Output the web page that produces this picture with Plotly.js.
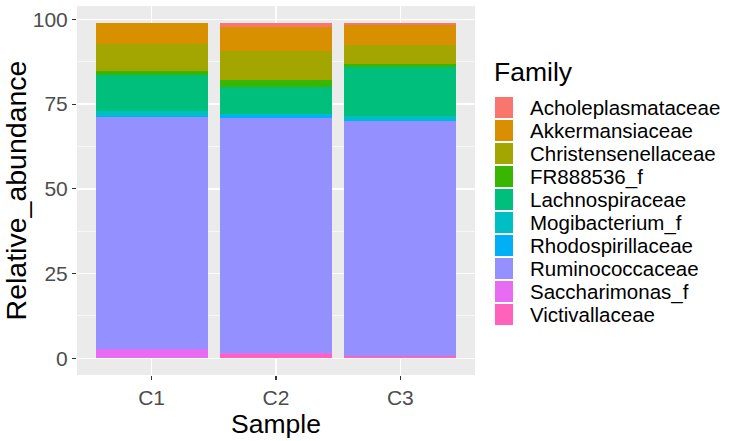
<!DOCTYPE html>
<html><head><meta charset="utf-8">
<script src="https://cdn.plot.ly/plotly-3.0.1.min.js"></script>
<style>html,body{margin:0;padding:0;background:#fff;}#chart{width:749px;height:441px;}</style>
</head><body><div id="chart"></div>
<script>
const samples = ["C1", "C2", "C3"];
const families = ["Acholeplasmataceae","Akkermansiaceae","Christensenellaceae","FR888536_f","Lachnospiraceae","Mogibacterium_f","Rhodospirillaceae","Ruminococcaceae","Saccharimonas_f","Victivallaceae"];
const familyColors = ["#F8766D","#D89000","#A3A500","#39B600","#00BF7D","#00BFC4","#00B0F6","#9590FF","#E76BF3","#FF62BC"];
const Acholeplasmataceae = [0.05, 1.0, 0.85];
const Akkermansiaceae = [6.1, 7.2, 5.9];
const Christensenellaceae = [8.15, 8.6, 5.5];
const FR888536_f = [1.0, 2.1, 0.9];
const Lachnospiraceae = [10.8, 7.9, 14.3];
const Mogibacterium_f = [1.5, 0.3, 1.3];
const Rhodospirillaceae = [0.3, 1.0, 0.2];
const Ruminococcaceae = [68.4, 69.4, 69.3];
const Saccharimonas_f = [2.5, 0.1, 0.1];
const Victivallaceae = [0.15, 1.3, 0.7];
const yTicks = [0, 25, 50, 75, 100];

const values = [Acholeplasmataceae, Akkermansiaceae, Christensenellaceae, FR888536_f, Lachnospiraceae, Mogibacterium_f, Rhodospirillaceae, Ruminococcaceae, Saccharimonas_f, Victivallaceae];

const W = 749, H = 441;
const M = {l: 77, r: 274, t: 6, b: 66};
const pw = W - M.l - M.r, ph = H - M.t - M.b;
const px2x = p => (p - M.l) / pw;
const py2y = p => 1 - (p - M.t) / ph;

const traces = [];
for (let i = families.length - 1; i >= 0; i--) {
  traces.push({
    type: "bar", name: families[i], x: samples, y: values[i],
    marker: {color: familyColors[i], line: {width: 0}},
    width: 0.9, showlegend: false
  });
}

// manual ggplot-style legend
const shapes = [];
const annotations = [];
const keyLeft = 495, keyW = 18, keyTop0 = 97, keyH = 21, pitch = 23, textLeft = 529;
families.forEach((f, i) => {
  const top = keyTop0 + i * pitch;
  shapes.push({
    type: "rect", xref: "paper", yref: "paper",
    x0: px2x(keyLeft), x1: px2x(keyLeft + keyW),
    y0: py2y(top + keyH), y1: py2y(top),
    fillcolor: familyColors[i], line: {width: 0}
  });
  annotations.push({
    xref: "paper", yref: "paper", x: px2x(textLeft), y: py2y(top + keyH / 2),
    xanchor: "left", yanchor: "middle", showarrow: false, text: f,
    borderpad: 0,
    font: {size: 20.5, color: "#000000"}
  });
});
annotations.push({
  xref: "paper", yref: "paper", x: px2x(493), y: py2y(72),
  xanchor: "left", yanchor: "middle", showarrow: false, text: "Family",
  borderpad: 0,
  font: {size: 26.5, color: "#000000"}
});

const layout = {
  width: W, height: H,
  margin: M,
  barmode: "stack",
  paper_bgcolor: "#FFFFFF",
  plot_bgcolor: "#EBEBEB",
  font: {family: "Liberation Sans, Arial, sans-serif", color: "#4D4D4D"},
  showlegend: false,
  xaxis: {
    range: [-0.6, 2.6], showgrid: true, gridcolor: "#FFFFFF", gridwidth: 1.4,
    zeroline: false, showline: false, automargin: false,
    ticks: "outside", ticklen: 4, tickcolor: "#333333", tickwidth: 1.2,
    tickfont: {size: 21, color: "#4D4D4D"},
    title: {text: "Sample", font: {size: 26.5, color: "#000000"}, standoff: 4}
  },
  yaxis: {
    range: [-4.95, 103.95], tickvals: yTicks, ticktext: yTicks.map(String),
    showgrid: true, gridcolor: "#FFFFFF", gridwidth: 1.4, automargin: false,
    minor: {tickvals: [12.5, 37.5, 62.5, 87.5], showgrid: true, gridcolor: "#FFFFFF", gridwidth: 0.6, ticks: ""},
    zeroline: false, showline: false,
    ticks: "outside", ticklen: 4, tickcolor: "#333333", tickwidth: 1.2,
    tickfont: {size: 21, color: "#4D4D4D"},
    title: {text: "Relative_abundance", font: {size: 28.5, color: "#000000"}, standoff: 3}
  },
  shapes: shapes,
  annotations: annotations
};

Plotly.newPlot("chart", traces, layout, {staticPlot: true, displayModeBar: false});
</script>
</body></html>
